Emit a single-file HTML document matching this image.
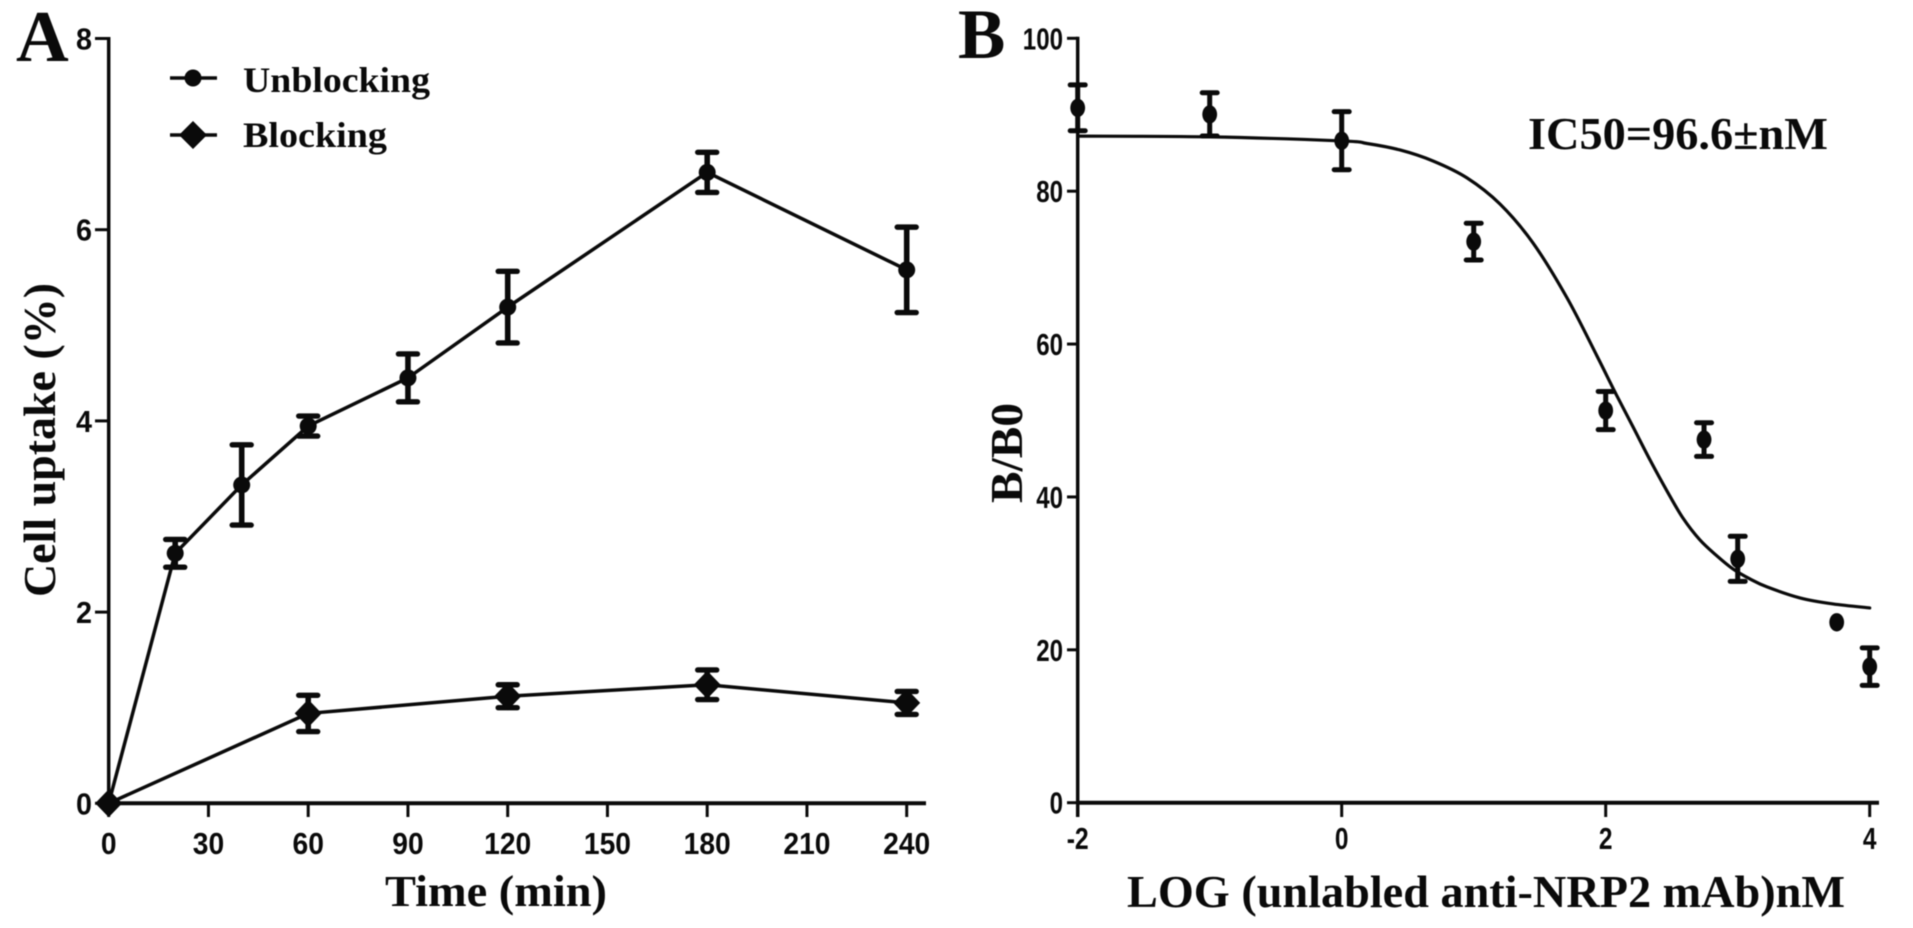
<!DOCTYPE html>
<html lang="en">
<head>
<meta charset="utf-8">
<title>Cell uptake and IC50 charts</title>
<style>
html,body{margin:0;padding:0;background:#fff;width:1913px;height:928px;overflow:hidden}
svg{display:block;filter:blur(.5px)}
text{fill:#0a0a0a}
.serif{font-family:"Liberation Serif",serif;font-weight:700}
.sans{font-family:"Liberation Sans",sans-serif;font-weight:700;font-size:31px}
</style>
</head>
<body>
<svg id="figure" xmlns="http://www.w3.org/2000/svg" width="1913" height="928" viewBox="0 0 1913 928">
  <rect width="1913" height="928" fill="#fff"/>

  <text class="serif" x="16" y="61" font-size="73">A</text>
  <text class="serif" x="958" y="58" font-size="71">B</text>

  <g id="panelA"></g>
  <g id="panelB"></g>

  <text class="serif" transform="translate(55 597) rotate(-90)" font-size="46" textLength="314" lengthAdjust="spacingAndGlyphs">Cell uptake (%)</text>
  <text class="serif" x="385" y="906" font-size="44" textLength="222" lengthAdjust="spacingAndGlyphs">Time (min)</text>
  <text class="serif" transform="translate(1022 503) rotate(-90)" font-size="46" textLength="100" lengthAdjust="spacingAndGlyphs">B/B0</text>
  <text class="serif" x="1127" y="907" font-size="46" textLength="718" lengthAdjust="spacingAndGlyphs">LOG (unlabled anti-NRP2 mAb)nM</text>
  <text class="serif" x="1528" y="149" font-size="46" textLength="300" lengthAdjust="spacingAndGlyphs">IC50=96.6±nM</text>

  <g>
    <g>
      <line x1="170" y1="78" x2="217" y2="78" stroke="#0a0a0a" stroke-width="3.4"/>
      <circle cx="193" cy="78" r="8.5" fill="#0a0a0a"/>
      <text class="serif" x="243" y="92" font-size="36" textLength="187" lengthAdjust="spacingAndGlyphs">Unblocking</text>
    </g>
    <g>
      <line x1="170" y1="135" x2="217" y2="135" stroke="#0a0a0a" stroke-width="3.4"/>
      <polygon points="179,135 193,121 207,135 193,149" fill="#0a0a0a"/>
      <text class="serif" x="243" y="147" font-size="36" textLength="144" lengthAdjust="spacingAndGlyphs">Blocking</text>
    </g>
  </g>
</svg>

<script>
// Panel A data
const aXTicks = [0, 30, 60, 90, 120, 150, 180, 210, 240];
const aYTicks = [0, 2, 4, 6, 8];
const unblockingTimes = [0, 20, 40, 60, 90, 120, 180, 240];
const unblockingValues = [0, 2.615, 3.33, 3.946, 4.45, 5.19, 6.6, 5.58];
const unblockingErrors = [0, 0.145, 0.42, 0.105, 0.25, 0.375, 0.21, 0.447];
const blockingTimes = [0, 60, 120, 180, 240];
const blockingValues = [0, 0.94, 1.12, 1.24, 1.05];
const blockingErrors = [0, 0.19, 0.12, 0.155, 0.12];

// Panel B data
const bXTicks = [-2, 0, 2, 4];
const bYTicks = [0, 20, 40, 60, 80, 100];
const bLogDose = [-2, -1, 0, 1, 2, 2.745, 3, 3.75, 4];
const bMeans = [90.9, 90.05, 86.6, 73.4, 51.3, 47.5, 31.9, 23.6, 17.8];
const bErrors = [3.0, 2.83, 3.8, 2.4, 2.5, 2.2, 2.95, 0, 2.45];
const fitLogDose = [-2, -1, 0, 0.192, 0.442, 0.692, 0.949, 1.199, 1.449, 1.707, 1.934, 2.07, 2.207, 2.336, 2.464, 2.585, 2.714, 2.843, 2.964, 3.093, 3.222, 3.472, 3.722, 4];
const fitValues = [87.2, 87.1, 86.57, 86.24, 85.39, 83.95, 81.74, 78.32, 73.23, 66.04, 58.44, 53.73, 49.16, 44.83, 40.79, 37.24, 34.37, 32.28, 30.58, 29.27, 28.23, 26.79, 26.0, 25.48];

// Axis functions
const axX = t => 108.7 + t * 3.325;
const axY = v => 803.3 - v * 95.6;
const bxX = l => 1341.7 + l * 132;
const bxY = v => 802.7 - v * 7.644;

const NS = 'http://www.w3.org/2000/svg';
const INK = '#0a0a0a';
function make(parent, tag, attrs) {
  const el = document.createElementNS(NS, tag);
  for (const k in attrs) el.setAttribute(k, attrs[k]);
  parent.appendChild(el);
  return el;
}
const panelA = document.getElementById('panelA');
const panelB = document.getElementById('panelB');

function smoothPath(xs, ys) {
  let d = 'M' + xs[0] + ' ' + ys[0];
  for (let i = 0; i < xs.length - 1; i++) {
    const x0 = xs[Math.max(i - 1, 0)], y0 = ys[Math.max(i - 1, 0)];
    const x3 = xs[Math.min(i + 2, xs.length - 1)], y3 = ys[Math.min(i + 2, xs.length - 1)];
    const c1x = xs[i] + (xs[i + 1] - x0) / 6, c1y = ys[i] + (ys[i + 1] - y0) / 6;
    const c2x = xs[i + 1] - (x3 - xs[i]) / 6, c2y = ys[i + 1] - (y3 - ys[i]) / 6;
    d += ' C' + c1x + ' ' + c1y + ' ' + c2x + ' ' + c2y + ' ' + xs[i + 1] + ' ' + ys[i + 1];
  }
  return d;
}

/* ---------- Panel A axes ---------- */
const aYAxis = make(panelA, 'line', {x1: axX(0), y1: axY(8) - 1.5, x2: axX(0), y2: axY(0), stroke: INK, 'stroke-width': 3.5});


const aXAxis = make(panelA, 'line', {x1: axX(0), y1: axY(0), x2: 926, y2: axY(0), stroke: INK, 'stroke-width': 4});



aYTicks.forEach(v => {
  const tick = make(panelA, 'line', {x1: 95, y1: axY(v), x2: axX(0), y2: axY(v), stroke: INK, 'stroke-width': 3});
  
  
  const label = make(panelA, 'text', {x: 92, y: axY(v) + 11, 'text-anchor': 'end', class: 'sans', textLength: 16, lengthAdjust: 'spacingAndGlyphs'});
  label.textContent = v;
  
  
});
aXTicks.forEach(t => {
  const tick = make(panelA, 'line', {x1: axX(t), y1: axY(0), x2: axX(t), y2: 817, stroke: INK, 'stroke-width': 3});
  
  
  const label = make(panelA, 'text', {x: axX(t), y: 854, 'text-anchor': 'middle', class: 'sans', textLength: String(t).length * 15.7, lengthAdjust: 'spacingAndGlyphs'});
  label.textContent = t;
  
  
});

/* ---------- Panel A series ---------- */
const unblockingLine = make(panelA, 'polyline', {
  points: unblockingTimes.map((t, i) => axX(t) + ',' + axY(unblockingValues[i])).join(' '),
  fill: 'none', stroke: INK, 'stroke-width': 3.5, 'stroke-linejoin': 'round'
});



const blockingLine = make(panelA, 'polyline', {
  points: blockingTimes.map((t, i) => axX(t) + ',' + axY(blockingValues[i])).join(' '),
  fill: 'none', stroke: INK, 'stroke-width': 3.5, 'stroke-linejoin': 'round'
});



function errorBar(parent, x, yTop, yBottom, capHalf, stem, capThick) {
  const group = make(parent, 'g', {});
  make(group, 'line', {x1: x, y1: yTop, x2: x, y2: yBottom, stroke: INK, 'stroke-width': stem});
  make(group, 'line', {x1: x - capHalf, y1: yTop, x2: x + capHalf, y2: yTop, stroke: INK, 'stroke-width': capThick, 'stroke-linecap': 'round'});
  make(group, 'line', {x1: x - capHalf, y1: yBottom, x2: x + capHalf, y2: yBottom, stroke: INK, 'stroke-width': capThick, 'stroke-linecap': 'round'});
  return group;
}

unblockingTimes.forEach((t, i) => {
  if (unblockingErrors[i] > 0) {
    const err = errorBar(panelA, axX(t), axY(unblockingValues[i] + unblockingErrors[i]), axY(unblockingValues[i] - unblockingErrors[i]), 9.5, 5.6, 5.4);
    
    
  }
  const dot = make(panelA, 'circle', {cx: axX(t), cy: axY(unblockingValues[i]), r: 8.5, fill: INK});
  
  
});

blockingTimes.forEach((t, i) => {
  if (blockingErrors[i] > 0) {
    const err = errorBar(panelA, axX(t), axY(blockingValues[i] + blockingErrors[i]), axY(blockingValues[i] - blockingErrors[i]), 9.5, 5.6, 5.4);
    
    
  }
  const cx = axX(t), cy = axY(blockingValues[i]);
  const dia = make(panelA, 'polygon', {points: [cx - 13.5, cy, cx, cy - 14, cx + 13.5, cy, cx, cy + 14].join(' '), fill: INK});
  
  
});

/* ---------- Panel B axes ---------- */
const bYAxis = make(panelB, 'line', {x1: bxX(-2), y1: bxY(100) - 1.5, x2: bxX(-2), y2: 817, stroke: INK, 'stroke-width': 3.5});


const bXAxis = make(panelB, 'line', {x1: bxX(-2), y1: bxY(0), x2: 1879, y2: bxY(0), stroke: INK, 'stroke-width': 4});



bYTicks.forEach(v => {
  const tick = make(panelB, 'line', {x1: 1067, y1: bxY(v), x2: bxX(-2), y2: bxY(v), stroke: INK, 'stroke-width': 3});
  
  
  const label = make(panelB, 'text', {x: 1063, y: bxY(v) + 11, 'text-anchor': 'end', class: 'sans', textLength: String(v).length * 13.4, lengthAdjust: 'spacingAndGlyphs'});
  label.textContent = v;
  
  
});
bXTicks.forEach(l => {
  const tick = make(panelB, 'line', {x1: bxX(l), y1: bxY(0), x2: bxX(l), y2: 817, stroke: INK, 'stroke-width': 3});
  
  
  const label = make(panelB, 'text', {x: bxX(l), y: 849, 'text-anchor': 'middle', class: 'sans', textLength: l < 0 ? 22 : 13.6, lengthAdjust: 'spacingAndGlyphs'});
  label.textContent = l;
  
  
});

/* ---------- Panel B series ---------- */
const fitCurve = make(panelB, 'path', {
  d: smoothPath(fitLogDose.map(bxX), fitValues.map(bxY)),
  fill: 'none', stroke: INK, 'stroke-width': 3.2, 'stroke-linecap': 'round'
});



bLogDose.forEach((l, i) => {
  if (bErrors[i] > 0) {
    const err = errorBar(panelB, bxX(l), bxY(bMeans[i] + bErrors[i]), bxY(bMeans[i] - bErrors[i]), 7.5, 5, 5);
    
    
  }
  const dot = make(panelB, 'ellipse', {cx: bxX(l), cy: bxY(bMeans[i]), rx: 7.4, ry: 9.2, fill: INK});
  
  
});
</script>
</body>
</html>
